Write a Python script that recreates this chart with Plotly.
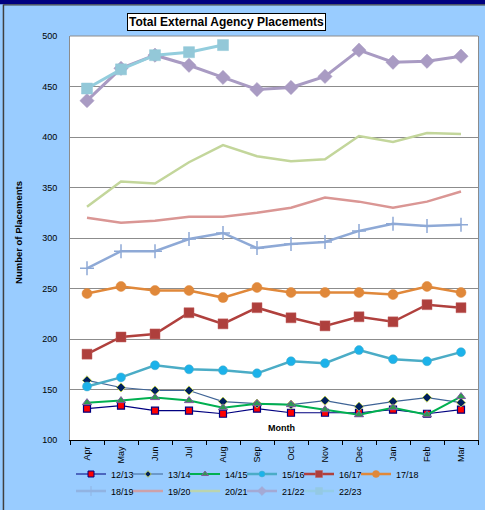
import plotly.graph_objects as go

months = ["Apr", "May", "Jun", "Jul", "Aug", "Sep", "Oct", "Nov", "Dec", "Jan", "Feb", "Mar"]

s1213 = [131, 134, 129, 129, 126, 131, 127, 127, 127, 130, 126, 130]
s1314 = [159, 152, 149, 149, 138, 136, 135, 139, 133, 138, 142, 137]
s1415 = [137, 139, 142, 139, 132, 136, 135, 130, 125, 132, 125, 143]
s1516 = [153, 162, 174, 170, 169, 166, 178, 176, 189, 180, 178, 187]
s1617 = [185, 202, 205, 226, 215, 231, 221, 213, 222, 217, 234, 231]
s1718 = [245, 252, 248, 248, 241, 251, 246, 246, 246, 244, 252, 246]
s1819 = [270, 287, 287, 299, 305, 290, 294, 296, 307, 314, 312, 313]
s1920 = [320, 315, 317, 321, 321, 325, 330, 340, 336, 330, 336, 346]
s2021 = [331, 356, 354, 375, 392, 381, 376, 378, 401, 395, 404, 403]
s2122 = [436, 468, 481, 471, 459, 447, 449, 460, 486, 474, 475, 480]
s2223 = [448, 467, 481, 484, 491]

y_ticks = [100, 150, 200, 250, 300, 350, 400, 450, 500]

W, H = 485, 510
L, R, T, B = 70, 477.7, 36, 440


def px(x):
    return (x - L) / (R - L)


def py(y):
    return (B - y) / (B - T)


fig = go.Figure()

# name, values, line colour, line width, symbol, size, fill, edge, edge width, legend, legend marker size, legend opacity
series = [
    ("12/13", s1213, "#000080", 1.2, "square", 7, "#FF0000", "#000080", 1.2, "legend", 6, 1.0),
    ("13/14", s1314, "#3F6496", 1.2, "diamond", 7, "#002060", "#B5C85A", 1.0, "legend", 5, 1.0),
    ("14/15", s1415, "#00B050", 2.0, "triangle-up", 8, "#2E9A50", "#7F5CA0", 1.0, "legend", 6, 1.0),
    ("15/16", s1516, "#4BACC6", 2.5, "circle", 9, "#1CB2EA", "#4BACC6", 0.5, "legend", 6, 1.0),
    ("16/17", s1617, "#B0403D", 2.5, "square", 10, "#AE3F3C", "#C06060", 0.5, "legend", 7, 1.0),
    ("17/18", s1718, "#E0883A", 2.5, "circle", 10, "#E0883A", "#E0883A", 0.5, "legend", 7, 1.0),
    ("18/19", s1819, "#8EA9D6", 2.5, "cross-thin", 10, "#8EA9D6", "#8EA9D6", 1.5, "legend2", 7, 0.7),
    ("19/20", s1920, "#DA9694", 2.5, None, 0, None, None, 0, "legend2", 0, 0.8),
    ("20/21", s2021, "#C3D69B", 2.5, None, 0, None, None, 0, "legend2", 0, 0.8),
    ("21/22", s2122, "#A99BC3", 3.0, "diamond", 11, "#A99BC3", "#A99BC3", 0.5, "legend2", 7, 0.7),
    ("22/23", s2223, "#93CDDD", 3.0, "square", 11, "#93C8D8", "#93C8D8", 0.5, "legend2", 7, 0.7),
]

for name, vals, lc, lw, sym, ms, mfill, mline, mlw, leg, lms, lop in series:
    if sym:
        marker = dict(symbol=sym, size=ms, color=mfill, line=dict(color=mline, width=mlw))
        mode = "lines+markers"
    else:
        marker = None
        mode = "lines"
    fig.add_trace(go.Scatter(
        x=months[:len(vals)], y=vals, name=name, mode=mode,
        line=dict(color=lc, width=lw), marker=marker, showlegend=False,
    ))

# legend entries (smaller symbols, as in the reference legend)
for leg in ("legend", "legend2"):
    for name, vals, lc, lw, sym, ms, mfill, mline, mlw, lg, lms, lop in series:
        if lg != leg:
            continue
        if sym:
            marker = dict(symbol=sym, size=lms, color=mfill, line=dict(color=mline, width=min(mlw, 1)))
            mode = "lines+markers"
        else:
            marker = None
            mode = "lines"
        fig.add_trace(go.Scatter(
            x=[None], y=[None], name=name, mode=mode, opacity=lop,
            line=dict(color=lc, width=min(lw, 2.5)), marker=marker, legend=leg,
        ))
    # spacer so the last label is not clipped
    fig.add_trace(go.Scatter(
        x=[None], y=[None], name=" ", mode="lines",
        line=dict(color="rgba(0,0,0,0)", width=1), legend=leg, hoverinfo="skip",
    ))

legend_common = dict(
    orientation="h", xref="container", yref="container", xanchor="left", yanchor="middle",
    bgcolor="rgba(0,0,0,0)", font=dict(size=9), entrywidth=12, entrywidthmode="pixels",
    itemwidth=30, tracegroupgap=0, borderwidth=0, itemclick=False, itemdoubleclick=False,
)

fig.update_layout(
    width=W, height=H,
    margin=dict(l=L, r=W - R, t=T, b=H - B, pad=0, autoexpand=False),
    paper_bgcolor="#99CCFF",
    plot_bgcolor="#FFFFFF",
    font=dict(family="Arial, Liberation Sans, sans-serif", size=9, color="#000000"),
    showlegend=True,
    legend=dict(x=71 / W, y=1 - 474 / H, **legend_common),
    legend2=dict(x=71 / W, y=1 - 491 / H, **legend_common),
    xaxis=dict(
        type="category", categoryorder="array", categoryarray=months,
        showgrid=False, showline=True, linecolor="#000000", linewidth=1,
        ticks="outside", ticklen=4, tickcolor="#000000", tickson="boundaries",
        tickangle=-90, tickfont=dict(size=9), range=[-0.5, 11.5], zeroline=False,
        automargin=False, ticklabelstandoff=2,
    ),
    yaxis=dict(
        range=[100, 500], tickvals=y_ticks, showgrid=True, gridcolor="#8C8C8C", gridwidth=1,
        showline=True, linecolor="#8C8C8C", linewidth=1, mirror=True,
        ticks="outside", ticklen=10, tickcolor="rgba(0,0,0,0)", tickfont=dict(size=9),
        zeroline=False, automargin=False,
    ),
)

shapes = [
    dict(type="rect", xref="paper", yref="paper", x0=px(-5), x1=px(W + 5), y0=py(-5), y1=py(4.2),
         fillcolor="#000080", line=dict(width=0), layer="below"),
    dict(type="line", xref="paper", yref="paper", x0=px(3.5), x1=px(3.5), y0=py(4.5), y1=py(H + 40),
         line=dict(color="#404040", width=1.5)),
    dict(type="line", xref="paper", yref="paper", x0=px(3.5), x1=px(W + 5), y0=py(4.8), y1=py(4.8),
         line=dict(color="#404040", width=1.2)),
    dict(type="line", xref="paper", yref="paper", x0=0, x1=1, y0=1, y1=1,
         line=dict(color="#8C8C8C", width=1)),
]
fig.update_layout(shapes=shapes)

fig.add_annotation(
    text="<b>Total External Agency Placements</b>", xref="paper", yref="paper",
    x=px(226.5), y=py(21.5), xanchor="center", yanchor="middle", showarrow=False,
    font=dict(size=12, color="#000000"), bgcolor="#FFFFFF", bordercolor="#000000",
    borderwidth=1, borderpad=1,
)
fig.add_annotation(
    text="<b>Number of Placements</b>", xref="paper", yref="paper",
    x=px(18), y=py(232), xanchor="center", yanchor="middle", textangle=-90,
    showarrow=False, font=dict(size=9.5, color="#000000"),
)
fig.add_annotation(
    text="<b>Month</b>", xref="paper", yref="paper",
    x=px(281), y=py(428), xanchor="center", yanchor="middle",
    showarrow=False, font=dict(size=9, color="#000000"),
)

fig.write_html("out.html", config={"displayModeBar": False},
               post_script="document.body.style.margin='0';")
